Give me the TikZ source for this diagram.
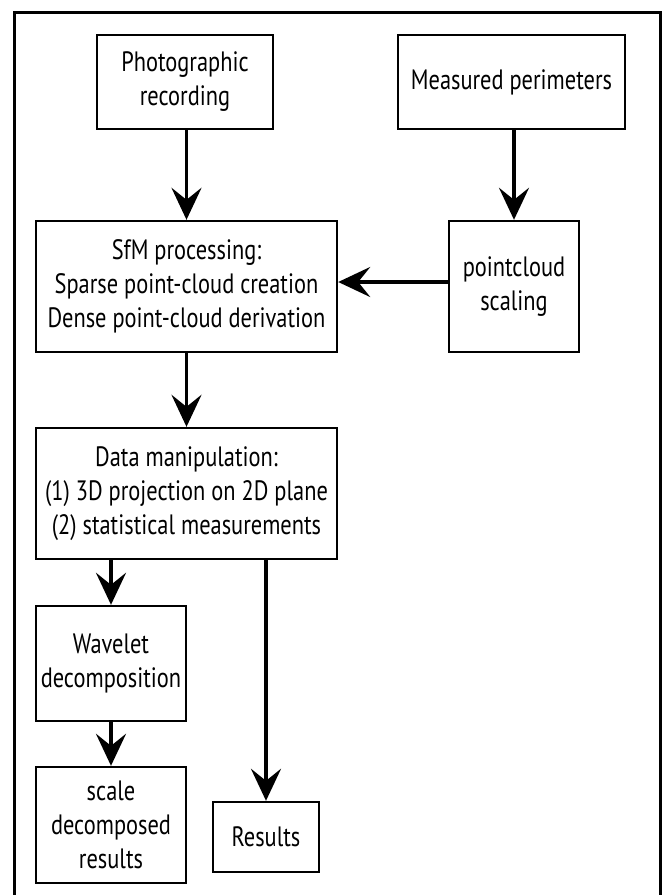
\documentclass[tikz,border=0pt]{standalone}
\usepackage{fontspec}
\setmainfont{PT Sans}[FakeStretch=0.8]
\usepackage{tikz}
\usetikzlibrary{arrows.meta, positioning}
\tikzset{>={Stealth[length=16pt, width=15pt, inset=6pt]}}

\begin{document}
\begin{tikzpicture}[x=0.5pt, y=-0.5pt,
    box/.style={draw, very thick, align=center, inner sep=2pt,
        font=\fontsize{14}{17}\selectfont},
    flow/.style={->, line width=1.8pt}]
    \useasboundingbox (0,0) rectangle (663,895);
    \draw [line width=1.5pt] (14,900) -- (14,12) -- (660,12) -- (660,900);
    % top row
    \node [box, minimum width=88pt, minimum height=47pt](photo) at (185,82) {Photographic\\recording};
    \node [box, minimum width=113.5pt, minimum height=47pt](meas) at (511.5,82) {Measured perimeters};
    % processing
    \node [box, minimum width=150.5pt, minimum height=65.5pt](sfm) at (186.5,286.5) {SfM processing:\\Sparse point-cloud creation\\Dense point-cloud derivation};
    \node [box, minimum width=65pt, minimum height=65.5pt](scal) at (514,286.5) {pointcloud\\scaling};
    \node [box, minimum width=150.5pt, minimum height=65.5pt](data) at (186.5,493.5) {Data manipulation:\\(1) 3D projection on 2D plane\\(2) statistical measurements};
    % outputs
    \node [box, minimum width=75pt, minimum height=57.5pt](wave) at (111,663.5) {Wavelet\\decomposition};
    \node [box, minimum width=75pt, minimum height=58pt](scdec) at (111,825) {scale\\decomposed\\results};
    \node [box, minimum width=53pt, minimum height=35pt](res) at (266,837) {Results};
    \draw [flow] (photo.south -| sfm.north) -- (sfm.north);
    \draw [flow] (meas.south -| scal.north) -- (scal.north);
    \draw [flow] (scal.west |- 0,282) -- (sfm.east |- 0,282);
    \draw [flow] (sfm) -- (data);
    \draw [flow] (data.south -| wave.north) -- (wave.north);
    \draw [flow] (data.south -| res.north) -- (res.north);
    \draw [flow] (wave) -- (scdec);
\end{tikzpicture}
\end{document}
